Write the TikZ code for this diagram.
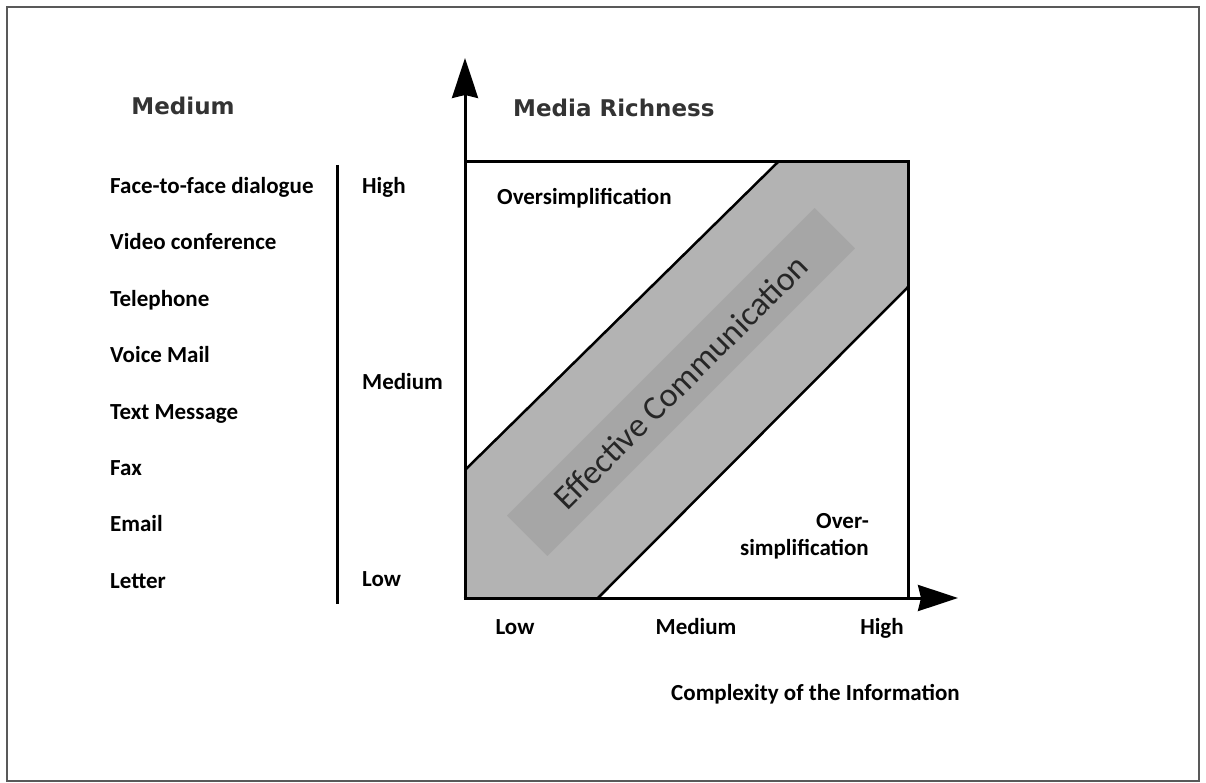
\documentclass[tikz,border=0pt]{standalone}
\usepackage{fontspec}
\setmainfont{Carlito}
\newfontfamily\headfont{DejaVu Sans}
\usetikzlibrary{positioning,arrows.meta}

\definecolor{bandgray}{HTML}{B3B3B3}
\definecolor{rectgray}{HTML}{A6A6A6}

\begin{document}
\begin{tikzpicture}[x=1pt,y=-1pt,
	lbl/.style={
		font=\bfseries\fontsize{23}{27}\selectfont,
		inner sep=0pt,
		text height=16pt,
		text depth=5pt,
		},
	head/.style={
		font=\headfont\bfseries\fontsize{23}{27}\selectfont,
		text=black!80,
		inner sep=0pt,
		},
	ax/.style={
		line width=3pt,
		-{Stealth[length=40pt,width=26pt,inset=3pt]},
		}]

	\useasboundingbox (0,0) rectangle (1206,783);
	\draw[black!65, line width=1.5pt] (7,7) rectangle (1199,781);

	% left column
	\node(medhead)[head] at (183,106) {Medium};
	\node(face)[lbl, anchor=west] at (110,188) {Face-to-face dialogue};
	\node(video)[lbl, below=35pt of face.south west, anchor=north west] {Video conference};
	\node(phone)[lbl, below=35pt of video.south west, anchor=north west] {Telephone};
	\node(voice)[lbl, below=35pt of phone.south west, anchor=north west] {Voice Mail};
	\node(text)[lbl, below=35pt of voice.south west, anchor=north west] {Text Message};
	\node(fax)[lbl, below=35pt of text.south west, anchor=north west] {Fax};
	\node(email)[lbl, below=35pt of fax.south west, anchor=north west] {Email};
	\node(letter)[lbl, below=35pt of email.south west, anchor=north west] {Letter};
	\draw[line width=3pt] (337,165) -- (337,604);

	\node(rhigh)[lbl, anchor=west] at (362,188) {High};
	\node(rmed)[lbl, anchor=west] at (362,384) {Medium};
	\node(rlow)[lbl, anchor=west] at (362,581) {Low};

	% chart
	\coordinate(origin) at (465,598);
	\coordinate(ytip) at (465,58);
	\coordinate(xtip) at (958,598);

	\fill[bandgray] (465,598) -- (465,470) -- (778,162) -- (908,162) -- (908,287) -- (598,598) -- cycle;
	\node(eff)[fill=rectgray, minimum width=435pt, minimum height=57pt, inner sep=0pt,
		rotate=45, text=black!85, font=\fontsize{34}{38}\selectfont] at (681,382) {Effective Communication};
	\draw[line width=2.5pt] (465,470) -- (778,162);
	\draw[line width=2.5pt] (598,598) -- (908,287);
	\draw[line width=3pt] (465,162) -- (908,162) -- (908,599.5);
	\draw[ax] ([yshift=1.5pt]origin) -- (ytip);
	\draw[ax] ([xshift=-1.5pt]origin) -- (xtip);

	\node(richhead)[head, anchor=west] at (513,108) {Media Richness};
	\node(overtop)[lbl, anchor=west] at (497,199) {Oversimplification};
	\node(overbot)[font=\bfseries\fontsize{23}{27}\selectfont, align=right, inner sep=0pt,
		anchor=east] at (869,536) {Over-\\simplification};

	\node(xlow)[lbl] at (515,629) {Low};
	\node(xmed)[lbl] at (696,629) {Medium};
	\node(xhigh)[lbl] at (882,629) {High};
	\node(xtitle)[lbl, anchor=west] at (671,695) {Complexity of the Information};

\end{tikzpicture}
\end{document}
